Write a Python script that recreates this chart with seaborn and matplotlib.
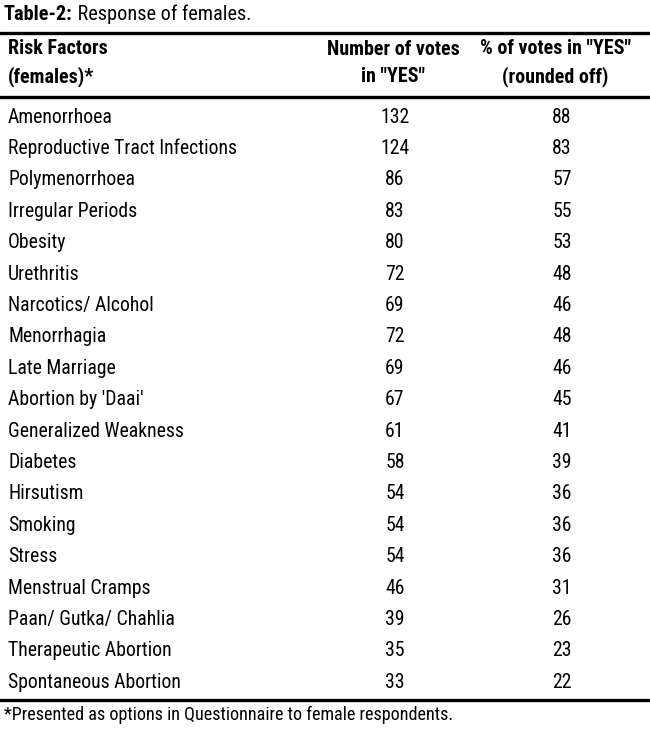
import matplotlib
matplotlib.use("Agg")
import matplotlib.pyplot as plt
import seaborn as sns

factors = ["Amenorrhoea", "Reproductive Tract Infections", "Polymenorrhoea",
           "Irregular Periods", "Obesity", "Urethritis", "Narcotics/ Alcohol",
           "Menorrhagia", "Late Marriage", "Abortion by 'Daai'",
           "Generalized Weakness", "Diabetes", "Hirsutism", "Smoking", "Stress",
           "Menstrual Cramps", "Paan/ Gutka/ Chahlia", "Therapeutic Abortion",
           "Spontaneous Abortion"]
votes = [132, 124, 86, 83, 80, 72, 69, 72, 69, 67, 61, 58, 54, 54, 54, 46, 39, 35, 33]
percent = [88, 83, 57, 55, 53, 48, 46, 48, 46, 45, 41, 39, 36, 36, 36, 31, 26, 23, 22]
headers = ["Risk Factors\n(females)*", "Number of votes\nin \"YES\"",
           "% of votes in \"YES\"\n(rounded off)"]
title_bold = "Table-2:"
title_rest = " Response of females."
footnote = "*Presented as options in Questionnaire to female respondents."

sns.set_theme(style="white")
plt.rcParams['font.family'] = ['Roboto Condensed', 'Liberation Sans Narrow',
                               'Liberation Sans', 'DejaVu Sans']
plt.rcParams['text.color'] = 'black'

W, H = 650, 729
fig = plt.figure(figsize=(W / 100, H / 100), dpi=100)
ax = fig.add_axes([0, 0, 1, 1])
ax.set_xlim(0, W)
ax.set_ylim(H, 0)
ax.axis("off")

fs = 14.2
fs_title = 14.6
fs_head = 14.4
fs_foot = 13.1
row0, dy = 117, 31.4
xl, xc1, xc2 = 8, 395, 562
hx1, hx2 = 393, 555

t = ax.text(4, 14, title_bold, fontsize=fs_title, fontweight="bold", va="center", ha="left")
fig.canvas.draw()
bb = t.get_window_extent()
inv = ax.transData.inverted()
x_end = inv.transform((bb.x1, bb.y0))[0]
ax.text(x_end, 14, title_rest, fontsize=fs_title, va="center", ha="left")

ax.plot([0, W], [32.5, 32.5], color="black", lw=2.4)
ax.plot([0, W], [97, 97], color="black", lw=2.4)
ax.plot([0, W], [700, 700], color="black", lw=2.4)

hy = 63
ax.text(xl, hy, headers[0], fontsize=fs_head, fontweight="bold", va="center", ha="left", linespacing=1.55)
ax.text(hx1, hy, headers[1], fontsize=fs_head, fontweight="bold", va="center", ha="center", linespacing=1.55)
ax.text(hx2, hy, headers[2], fontsize=fs_head, fontweight="bold", va="center", ha="center", linespacing=1.55)

for i, (f, v, p) in enumerate(zip(factors, votes, percent)):
    y = row0 + dy * i
    ax.text(xl, y, f, fontsize=fs, va="center", ha="left")
    ax.text(xc1, y, str(v), fontsize=fs, va="center", ha="center")
    ax.text(xc2, y, str(p), fontsize=fs, va="center", ha="center")

ax.text(4, 715, footnote, fontsize=fs_foot, va="center", ha="left")

fig.savefig("out.png", dpi=100)
